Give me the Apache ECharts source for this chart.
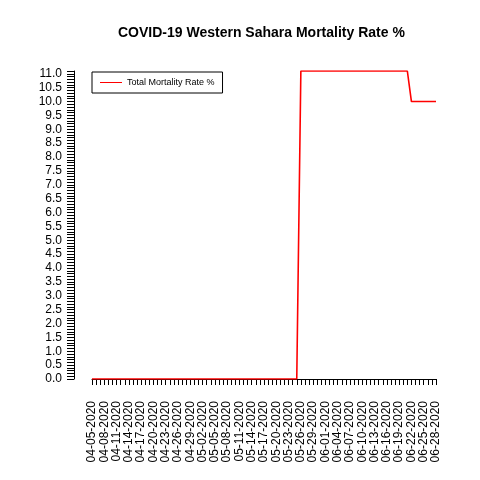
<!DOCTYPE html>
<html><head><meta charset="utf-8">
<script src="https://cdn.jsdelivr.net/npm/echarts@6/dist/echarts.min.js"></script>
</head><body style="margin:0;background:#fff">
<div id="main" style="width:480px;height:480px"></div>
<script>
// dates 04-05-2020 .. 06-28-2020
var dates = [];
var d0 = new Date(2020, 3, 5);
for (var i = 0; i < 85; i++) {
    var d = new Date(d0.getTime() + i * 86400000);
    dates.push(String(d.getMonth() + 1).padStart(2, '0') + '-' + String(d.getDate()).padStart(2, '0') + '-2020');
}
// 0 until 05-25, 11.1 from 05-26 to 06-21, 10.0 from 06-22
var zeroDays = 51, highDays = 27, lowDays = 7;
var rates = [].concat(
    Array(zeroDays).fill(0),
    Array(highDays).fill(11.1),
    Array(lowDays).fill(10.0)
);

var myChart = echarts.init(document.getElementById('main'));
var font = 'Liberation Sans, Arial, sans-serif';
myChart.setOption({
    animation: false,
    title: {
        text: 'COVID-19 Western Sahara Mortality Rate %',
        left: 113, top: 21,
        textStyle: {fontSize: 14, fontWeight: 'bold', color: '#000', fontFamily: font}
    },
    legend: {
        left: 92, top: 72, orient: 'vertical',
        borderColor: '#000', borderWidth: 1, borderRadius: 0,
        padding: [6, 8, 6, 8],
        itemWidth: 22, itemHeight: 1, icon: 'rect',
        textStyle: {fontSize: 9, color: '#000', fontFamily: font},
        data: ['Total Mortality Rate %']
    },
    grid: {left: 92, right: 44, top: 71, bottom: 101},
    xAxis: {
        type: 'category', data: dates, boundaryGap: false,
        offset: 14,
        axisLine: {lineStyle: {color: '#000'}},
        axisTick: {interval: 0, length: 6, lineStyle: {color: '#000'}},
        axisLabel: {interval: 2, rotate: 90, fontSize: 12, color: '#000', fontFamily: font, margin: 8}
    },
    yAxis: {
        type: 'value', min: 0, max: 11.1, interval: 0.5,
        offset: 18,
        splitLine: {show: false},
        axisLine: {show: true, lineStyle: {color: '#000'}},
        axisTick: {show: true, length: 7, lineStyle: {color: '#000'}},
        minorTick: {show: true, splitNumber: 5, length: 7, lineStyle: {color: '#000'}},
        axisLabel: {fontSize: 12, color: '#000', fontFamily: font, margin: 12,
            formatter: function (v) { return v.toFixed(1); },
            showMaxLabel: false},
        minorSplitLine: {show: false}
    },
    series: [{
        name: 'Total Mortality Rate %', type: 'line', data: rates,
        showSymbol: false, color: '#ff0000',
        lineStyle: {width: 1.6, color: '#ff0000'}
    }]
});
</script></body></html>
